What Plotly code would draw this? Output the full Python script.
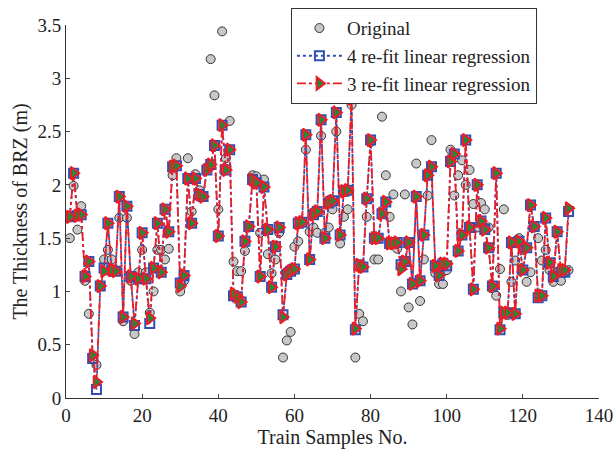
import plotly.graph_objects as go

samples = list(range(1, 133))

original = [
    1.50, 1.99, 1.58, 1.80, 1.10, 0.79, 0.40, 0.31, 1.05, 1.30,
    1.39, 1.30, 1.20, 1.69, 0.72, 1.69, 1.10, 0.60, 1.18, 1.39,
    1.18, 0.80, 1.00, 1.39, 1.39, 1.30, 1.40, 2.09, 2.25, 1.00,
    1.10, 2.25, 1.75, 2.10, 1.95, 1.90, 2.15, 3.18, 2.84, 1.77,
    3.44, 2.25, 2.60, 1.28, 1.19, 1.19, 1.38, 1.60, 2.09, 2.08,
    1.55, 2.05, 1.35, 1.17, 1.30, 1.55, 0.38, 0.54, 0.62, 1.42,
    1.47, 1.65, 2.33, 1.56, 1.60, 1.55, 2.46, 1.55, 1.60, 1.77,
    2.50, 1.45, 1.70, 1.77, 2.75, 0.38, 0.79, 0.72, 1.70, 2.40,
    1.30, 1.30, 2.64, 2.09, 1.70, 1.91, 1.40, 1.00, 1.91, 0.85,
    0.69, 2.20, 0.91, 1.30, 1.90, 2.42, 1.17, 1.07, 1.07, 1.20,
    2.33, 1.90, 2.09, 2.23, 2.00, 2.14, 1.82, 1.60, 1.83, 1.77,
    1.60, 1.03, 0.96, 1.21, 1.77, 0.78, 1.09, 1.29, 1.50, 1.39,
    1.09, 1.18, 1.60, 1.50, 1.29, 1.39, 1.20, 1.09, 1.18, 1.10,
    1.18, 1.20,
]

refit3 = [
    1.70, 2.11, 1.71, 1.72, 1.14, 1.28, 0.40, 0.15, 1.05, 1.19,
    1.64, 1.20, 1.19, 1.89, 0.76, 1.80, 1.14, 0.70, 1.12, 1.55,
    1.12, 0.75, 1.22, 1.64, 1.18, 1.77, 1.56, 2.17, 2.18, 1.05,
    1.15, 2.06, 1.64, 2.06, 1.91, 1.89, 2.14, 2.19, 2.37, 1.52,
    2.56, 2.14, 2.33, 0.98, 0.95, 0.90, 1.47, 1.61, 2.05, 2.02,
    1.14, 1.98, 1.58, 1.04, 1.42, 1.60, 0.76, 1.16, 1.19, 1.21,
    1.64, 1.65, 2.47, 1.30, 1.72, 1.75, 2.61, 1.50, 1.83, 1.85,
    2.68, 1.53, 1.94, 1.95, 2.81, 0.65, 1.25, 1.23, 1.87, 2.42,
    1.50, 1.50, 1.73, 1.84, 1.45, 1.45, 1.46, 1.21, 1.28, 1.46,
    1.07, 1.89, 1.10, 1.53, 2.09, 2.17, 1.24, 1.15, 1.26, 1.26,
    2.22, 2.29, 1.38, 1.53, 2.42, 1.60, 1.02, 2.00, 1.66, 1.58,
    1.41, 1.05, 2.11, 0.65, 0.80, 0.80, 1.46, 0.79, 1.47, 1.20,
    1.41, 1.81, 1.61, 0.96, 0.96, 1.69, 1.27, 1.14, 1.56, 1.20,
    1.20, 1.78,
]

refit4 = [
    1.70, 2.11, 1.71, 1.72, 1.14, 1.28, 0.37, 0.08, 1.05, 1.22,
    1.64, 1.20, 1.19, 1.89, 0.76, 1.80, 1.14, 0.68, 1.12, 1.55,
    1.12, 0.70, 1.22, 1.64, 1.18, 1.77, 1.56, 2.17, 2.18, 1.08,
    1.15, 2.06, 1.64, 2.06, 1.91, 1.89, 2.14, 2.19, 2.37, 1.52,
    2.56, 2.14, 2.33, 0.96, 0.95, 0.90, 1.47, 1.61, 2.05, 2.02,
    1.14, 1.98, 1.58, 1.04, 1.42, 1.60, 0.78, 1.16, 1.19, 1.21,
    1.64, 1.65, 2.47, 1.30, 1.72, 1.75, 2.61, 1.50, 1.83, 1.85,
    2.68, 1.53, 1.94, 1.95, 2.81, 0.64, 1.25, 1.23, 1.87, 2.42,
    1.50, 1.50, 1.73, 1.84, 1.45, 1.45, 1.46, 1.25, 1.28, 1.46,
    1.07, 1.89, 1.10, 1.53, 2.09, 2.17, 1.24, 1.15, 1.26, 1.24,
    2.22, 2.29, 1.38, 1.53, 2.42, 1.60, 1.02, 2.00, 1.66, 1.58,
    1.41, 1.05, 2.11, 0.64, 0.80, 0.80, 1.46, 0.79, 1.47, 1.20,
    1.41, 1.81, 1.61, 0.94, 0.96, 1.69, 1.27, 1.14, 1.56, 1.18,
    1.18, 1.75,
]

x_ticks = [0, 20, 40, 60, 80, 100, 120, 140]
y_ticks = [0, 0.5, 1, 1.5, 2, 2.5, 3, 3.5]

FONT = "Liberation Serif, Times New Roman, serif"

fig = go.Figure()
fig.add_trace(go.Scatter(
    x=samples, y=original, mode="markers", name="Original",
    marker=dict(symbol="circle", size=9, color="#c8c8c8",
                line=dict(color="#333333", width=1)),
))
fig.add_trace(go.Scatter(
    x=samples, y=refit4, mode="lines+markers", name="4 re-fit linear regression",
    line=dict(color="#2f4fb5", width=1.8, dash="dot"),
    marker=dict(symbol="square-open", size=9, color="#2f4fb5",
                line=dict(color="#2f4fb5", width=2)),
))
fig.add_trace(go.Scatter(
    x=samples, y=refit3, mode="lines+markers", name="3 re-fit linear regression",
    line=dict(color="#ee1c25", width=1.8, dash="dashdot"),
    marker=dict(symbol="triangle-right", size=11, color="#1f8a3c",
                line=dict(color="#ee1c25", width=2)),
))

fig.update_layout(
    width=613, height=450,
    margin=dict(l=66, r=14, t=25, b=52, autoexpand=False),
    paper_bgcolor="white", plot_bgcolor="white",
    font=dict(family=FONT, size=19, color="#222222"),
    showlegend=True,
    legend=dict(
        x=0.422, y=1.045, xanchor="left", yanchor="top",
        bgcolor="white", bordercolor="#333333", borderwidth=1,
        font=dict(family=FONT, size=19, color="#222222"),
        tracegroupgap=0, itemwidth=45,
    ),
    xaxis=dict(
        range=[0, 140], tickvals=x_ticks, ticks="inside", ticklen=4,
        showline=True, linecolor="#333333", linewidth=1, showgrid=False,
        zeroline=False, mirror=False, automargin=False,
        ticklabeloverflow="allow",
        title=dict(text="Train Samples No.", font=dict(family=FONT, size=20), standoff=4),
        tickfont=dict(family=FONT, size=19),
    ),
    yaxis=dict(
        range=[0, 3.5], tickvals=y_ticks, ticks="inside", ticklen=4,
        showline=True, linecolor="#333333", linewidth=1, showgrid=False,
        zeroline=False, mirror=False, automargin=False,
        ticklabeloverflow="allow",
        title=dict(text="The Thickness of BRZ (m)", font=dict(family=FONT, size=20), standoff=4),
        tickfont=dict(family=FONT, size=19),
    ),
)

fig.write_html("out.html",
               config={"displayModeBar": False},
               post_script="document.body.style.margin='0';document.body.style.padding='0';")
